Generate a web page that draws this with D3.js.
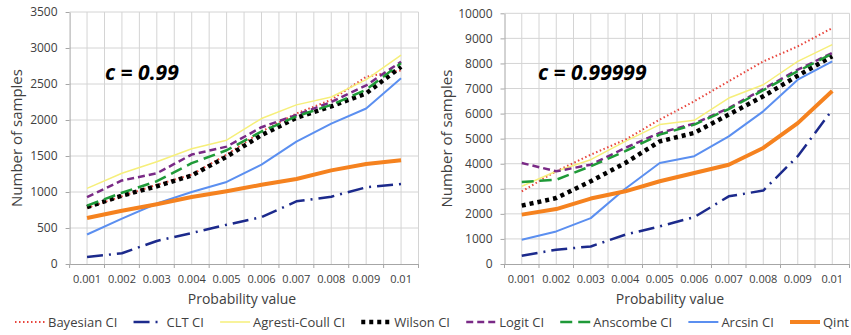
<!DOCTYPE html>
<html>
<head>
<meta charset="utf-8">
<script src="https://cdn.jsdelivr.net/npm/d3@7"></script>
<style>
  body { margin: 0; background: #fff; }
  svg { display: block; }
  text { font-family: "Open Sans", sans-serif; fill: #404040; }
  text.panel-title { fill: #000; }
</style>
</head>
<body>
<svg id="chart"></svg>
<script>
var width = 851;
var height = 335;

var probLabels = ["0.001", "0.002", "0.003", "0.004", "0.005", "0.006", "0.007", "0.008", "0.009", "0.01"];
var seriesNames = ["Bayesian CI", "CLT CI", "Agresti-Coull CI", "Wilson CI", "Logit CI", "Anscombe CI", "Arcsin CI", "Qint"];

// c = 0.99
var bayes99    = [780, 940, 1100, 1240, 1520, 1840, 2090, 2280, 2600, 2690];
var clt99      = [97, 150, 320, 430, 545, 650, 870, 935, 1065, 1110];
var agresti99  = [1050, 1260, 1420, 1600, 1720, 2020, 2210, 2320, 2560, 2900];
var wilson99   = [790, 950, 1080, 1230, 1490, 1790, 2030, 2190, 2370, 2740];
var logit99    = [930, 1160, 1260, 1520, 1630, 1900, 2070, 2250, 2480, 2810];
var anscombe99 = [810, 990, 1150, 1400, 1580, 1840, 2050, 2210, 2420, 2790];
var arcsin99   = [410, 630, 840, 1000, 1140, 1380, 1700, 1950, 2160, 2580];
var qint99     = [640, 740, 830, 930, 1010, 1100, 1180, 1300, 1390, 1440];

// c = 0.99999
var bayes5    = [2900, 3700, 4360, 4960, 5760, 6490, 7290, 8080, 8680, 9410];
var clt5      = [330, 570, 700, 1170, 1500, 1870, 2700, 2930, 4300, 6150];
var agresti5  = [3100, 3700, 4160, 4890, 5560, 5730, 6620, 7150, 8080, 8750];
var wilson5   = [2330, 2630, 3300, 4030, 4890, 5230, 5960, 6690, 7510, 8290];
var logit5    = [4030, 3700, 3960, 4630, 5230, 5600, 6220, 6980, 7750, 8420];
var anscombe5 = [3270, 3360, 3900, 4500, 5160, 5560, 6180, 6930, 7690, 8390];
var arcsin5   = [970, 1300, 1830, 3000, 4030, 4300, 5090, 6090, 7350, 8080];
var qint5     = [1970, 2190, 2610, 2900, 3300, 3630, 3960, 4630, 5620, 6900];

var lineStyles = [
    { color: "#e8453c", width: 2, dash: "1.5 2.5" },
    { color: "#1c2a8c", width: 2.5, dash: "16 6 2 6" },
    { color: "#f6ef7a", width: 1.5, dash: null },
    { color: "#000000", width: 4.5, dash: "4 4" },
    { color: "#7a2a86", width: 2.5, dash: "7 4" },
    { color: "#1f9a38", width: 2.5, dash: "12 6" },
    { color: "#5b8ff0", width: 2, dash: null },
    { color: "#f5821f", width: 4, dash: null }
];

var panels = [
    { title: "c = 0.99", left: 69.6, right: 418.5, top: 12, bottom: 264, max: 3500, step: 500,
      titleX: 105, yTitleX: 17, xTitleX: 242,
      series: [bayes99, clt99, agresti99, wilson99, logit99, anscombe99, arcsin99, qint99] },
    { title: "c = 0.99999", left: 504.5, right: 849.5, top: 13.3, bottom: 264, max: 10000, step: 1000,
      titleX: 538, yTitleX: 447, xTitleX: 670,
      series: [bayes5, clt5, agresti5, wilson5, logit5, anscombe5, arcsin5, qint5] }
];

var svg = d3.select("#chart").attr("width", width).attr("height", height);

panels.forEach(function (p) {
    var x = d3.scaleBand().domain(probLabels).range([p.left, p.right]).padding(0);
    var y = d3.scaleLinear().domain([0, p.max]).range([p.bottom, p.top]);
    var bw = x.bandwidth();
    var g = svg.append("g");

    // vertical grid (band edges + centres)
    var vx = [];
    probLabels.forEach(function (d) { vx.push(x(d)); vx.push(x(d) + bw / 2); });
    vx.push(p.right);
    g.selectAll(".vgrid").data(vx.slice(1)).enter().append("line")
        .attr("x1", d => d).attr("x2", d => d)
        .attr("y1", p.top).attr("y2", p.bottom)
        .attr("stroke", "#d4d4d4").attr("stroke-width", 1);

    var yTicks = d3.range(0, p.max + 1, p.step);
    g.selectAll(".hgrid").data(yTicks.slice(1)).enter().append("line")
        .attr("x1", p.left).attr("x2", p.right)
        .attr("y1", d => y(d)).attr("y2", d => y(d))
        .attr("stroke", "#d4d4d4").attr("stroke-width", 1);

    // y axis
    var yAxis = g.append("g")
        .attr("transform", `translate(${p.left},0)`)
        .call(d3.axisLeft(y).tickValues(yTicks).tickFormat(d3.format("d"))
            .tickSize(4).tickPadding(8).tickSizeOuter(0));
    yAxis.select(".domain").attr("stroke", "#a6a6a6");
    yAxis.selectAll(".tick line").attr("stroke", "#a6a6a6");
    yAxis.selectAll("text").attr("font-size", "12px");

    // x axis
    var xAxis = g.append("g")
        .attr("transform", `translate(0,${p.bottom})`)
        .call(d3.axisBottom(x).tickSize(0).tickPadding(11).tickSizeOuter(0));
    xAxis.select(".domain").attr("stroke", "#a6a6a6");
    xAxis.selectAll("text").attr("font-size", "11px");
    var edges = probLabels.map(d => x(d)).concat([p.right]);
    g.selectAll(".xtick").data(edges).enter().append("line")
        .attr("x1", d => d).attr("x2", d => d)
        .attr("y1", p.bottom).attr("y2", p.bottom + 4)
        .attr("stroke", "#a6a6a6");

    // lines
    var line = d3.line()
        .x((d, i) => x(probLabels[i]) + bw / 2)
        .y(d => y(d));
    p.series.forEach(function (vals, k) {
        var s = lineStyles[k];
        g.append("path")
            .datum(vals)
            .attr("d", line)
            .attr("fill", "none")
            .attr("stroke", s.color)
            .attr("stroke-width", s.width)
            .attr("stroke-dasharray", s.dash)
            .attr("stroke-linejoin", "round");
    });

    // titles
    g.append("text")
        .attr("class", "panel-title")
        .attr("x", p.titleX).attr("y", 80)
        .attr("font-size", "21px").attr("font-weight", "bold").attr("font-style", "italic")
        .text(p.title);

    g.append("text")
        .attr("transform", `translate(${p.yTitleX},${(p.top + p.bottom) / 2}) rotate(-90)`)
        .attr("dy", "0.35em")
        .attr("text-anchor", "middle")
        .attr("font-size", "15px")
        .text("Number of samples");

    g.append("text")
        .attr("x", p.xTitleX).attr("y", 299)
        .attr("dy", "0.35em")
        .attr("text-anchor", "middle")
        .attr("font-size", "14px")
        .text("Probability value");
});

// legend, laid out across the full width
var legend = svg.append("g");
var legendY = 322;
var symW = 30, symGap = 3;
var texts = seriesNames.map(function (name) {
    return legend.append("text").attr("y", legendY).attr("dy", "0.35em")
        .attr("font-size", "13px").text(name);
});
var widths = texts.map(t => t.node().getComputedTextLength());
var total = d3.sum(widths) + seriesNames.length * (symW + symGap);
var startX = 15, endX = 849;
var gap = (endX - startX - total) / (seriesNames.length - 1);
var cx = startX;
seriesNames.forEach(function (name, k) {
    var s = lineStyles[k];
    legend.append("line")
        .attr("x1", cx).attr("x2", cx + symW)
        .attr("y1", legendY).attr("y2", legendY)
        .attr("stroke", s.color)
        .attr("stroke-width", s.width)
        .attr("stroke-dasharray", s.dash);
    texts[k].attr("x", cx + symW + symGap);
    cx += symW + symGap + widths[k] + gap;
});
</script>
</body>
</html>
